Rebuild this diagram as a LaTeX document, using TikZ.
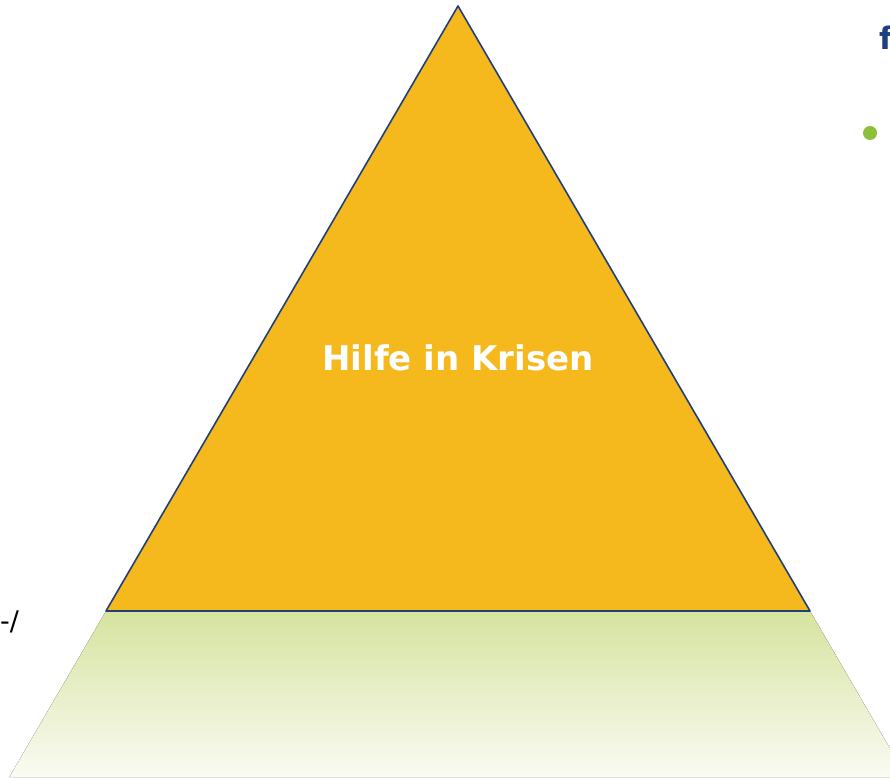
\documentclass[tikz,border=0pt]{standalone}
\usepackage{fontspec}
\setmainfont{DejaVu Sans}
\definecolor{triyellow}{HTML}{F5B91D}
\definecolor{edgeblue}{HTML}{1F3F7A}
\definecolor{titleblue}{HTML}{1F3F7F}
\definecolor{dotgreen}{HTML}{8CC03A}
\definecolor{gradtop}{HTML}{D6E39F}
\definecolor{gradbot}{HTML}{FAFBF3}
\tikzset{
  pyr/.style={fill=triyellow, draw=edgeblue, line width=1.6pt, line join=round},
  label/.style={font=\bfseries\fontsize{34}{40}\selectfont, text=white},
}
\begin{document}
\begin{tikzpicture}[x=1pt,y=1pt]
\useasboundingbox (0,0) rectangle (890,777);
\begin{scope}
\clip (0,0) rectangle (890,777);
% gradient base
\fill[top color=gradtop, bottom color=gradbot] (106,166) -- (810,166) -- (906.6,0) -- (9.4,0) -- cycle;
% triangle
\coordinate (apex) at (458,771);
\coordinate (bl) at (106,166);
\coordinate (br) at (810,166);
\draw[pyr] (apex) -- (br) -- (bl) -- cycle;
\node[label] (hilfe) at (458,419) {Hilfe in Krisen};
% cut-off title at right
\node[anchor=west, inner sep=0, font=\bfseries\fontsize{31}{36}\selectfont, text=titleblue] (ftxt) at (879,739) {f};
\fill[dotgreen] (870,644) circle (7);
% text at left edge
\node[anchor=west, inner sep=0, font=\fontsize{27}{30}\selectfont] (dash) at (0,155) {-/};
\end{scope}
\end{tikzpicture}
\end{document}
